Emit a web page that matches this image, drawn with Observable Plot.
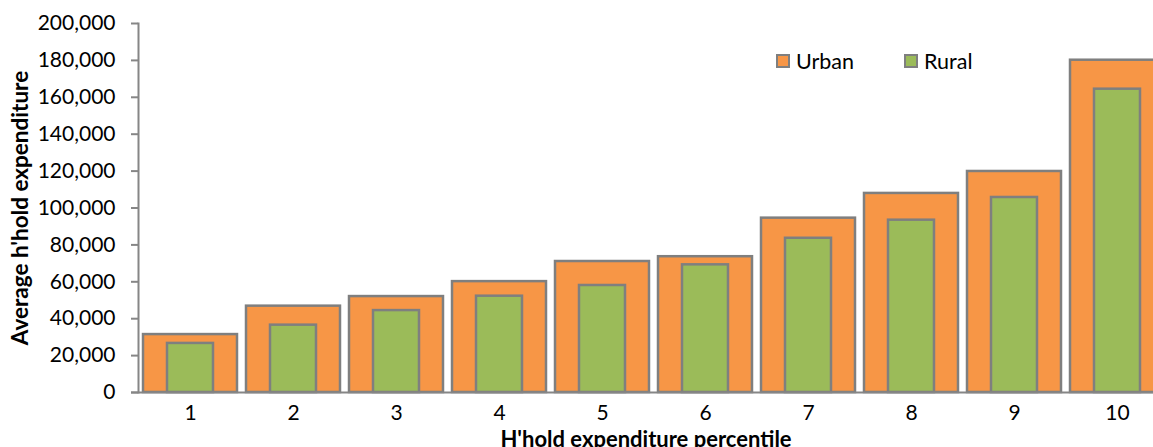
<!DOCTYPE html>
<html>
<head>
<meta charset="utf-8">
<script src="https://cdn.jsdelivr.net/npm/d3@7"></script>
<script src="https://cdn.jsdelivr.net/npm/@observablehq/plot@0.6"></script>
<style>
  html, body { margin: 0; padding: 0; background: #fff; overflow: hidden; }
  #wrap { position: relative; width: 1153px; height: 447px; overflow: hidden; font-family: Lato, "Open Sans", sans-serif; }
  #legend { position: absolute; left: 776px; top: 48px; display: flex; align-items: center; font-size: 21.5px; color: #000; }
  #legend .item { display: flex; align-items: center; }
  #legend .sw { width: 10px; height: 10px; border: 2px solid #7F7F7F; margin-right: 6px; }
</style>
</head>
<body>
<div id="wrap">
  <div id="chart"></div>
  <div id="legend"></div>
</div>
<script>
const percentiles = ["1","2","3","4","5","6","7","8","9","10"];
const urban = [31400, 46800, 52000, 60100, 71000, 73600, 94500, 107900, 119800, 180100];
const rural = [26600, 36500, 44400, 52200, 58000, 69200, 83600, 93400, 105700, 164400];
const yTicks = [0, 20000, 40000, 60000, 80000, 100000, 120000, 140000, 160000, 180000, 200000];
const seriesNames = ["Urban", "Rural"];
const seriesColors = ["#F79646", "#9BBB59"];
const yTitle = "Average h'hold expenditure";
const xTitle = "H'hold expenditure percentile";

const data = percentiles.map((p, i) => ({p, urban: urban[i], rural: rural[i]}));

const chart = Plot.plot({
  width: 1153,
  height: 447,
  marginTop: 23,
  marginBottom: 55,
  marginLeft: 138,
  marginRight: 0,
  style: {fontFamily: "Lato, 'Open Sans', sans-serif", fontSize: "21px", color: "#000", background: "#fff"},
  x: {domain: percentiles, range: [138, 1168], paddingInner: 0.09, paddingOuter: 0.045},
  y: {domain: [0, 200000]},
  marks: [
    Plot.barY(data, {x: "p", y: "urban", fill: seriesColors[0], stroke: "#7F7F7F", strokeWidth: 2.5}),
    Plot.barY(data, {x: "p", y: "rural", fill: seriesColors[1], stroke: "#7F7F7F", strokeWidth: 2.5, insetLeft: 24, insetRight: 24}),
    Plot.axisY({ticks: yTicks, tickFormat: d3.format(","), tickSize: 7, tickPadding: 16, stroke: "#868686", strokeWidth: 2, strokeOpacity: 1, label: null, fill: "#000", fontSize: 21}),
    Plot.axisX({tickSize: 0, tickPadding: 13, label: null, fill: "#000", fontSize: 21}),
    Plot.ruleY([0], {stroke: "#868686", strokeWidth: 2, insetLeft: -7}),
    Plot.frame({anchor: "left", stroke: "#868686", strokeWidth: 2, strokeOpacity: 1}),
    Plot.text([yTitle], {frameAnchor: "left", textAnchor: "middle", rotate: -90, dx: -118, fontWeight: "bold", fontSize: 22.5, fill: "#000"}),
    Plot.text([xTitle], {frameAnchor: "bottom", lineAnchor: "bottom", dy: 54, fontWeight: "bold", fontSize: 22, fill: "#000"})
  ]
});
document.getElementById("chart").appendChild(chart);

const legend = document.getElementById("legend");
seriesNames.forEach((name, i) => {
  const item = document.createElement("div");
  item.className = "item";
  if (i > 0) item.style.marginLeft = "50px";
  const sw = document.createElement("div");
  sw.className = "sw";
  sw.style.background = seriesColors[i];
  const t = document.createElement("span");
  t.textContent = name;
  item.appendChild(sw);
  item.appendChild(t);
  legend.appendChild(item);
});
</script>
</body>
</html>
